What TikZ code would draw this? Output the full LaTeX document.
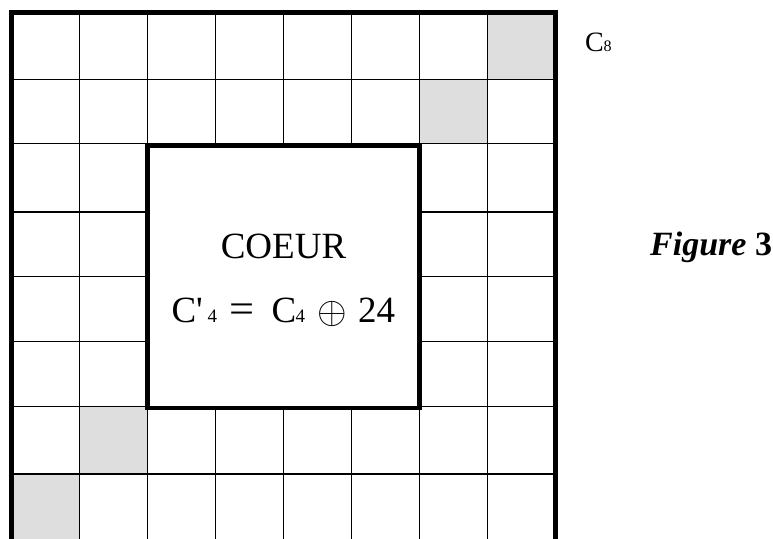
\documentclass[tikz,border=0pt]{standalone}
\usepackage{fontspec}
\newfontfamily\tnr{Liberation Serif}
\newcommand\fsz[1]{\fontsize{#1}{#1}\selectfont}
\newcommand\putat[2]{\makebox[0pt][l]{\hspace*{#1}#2}}
\begin{document}
\begin{tikzpicture}[x=1pt,y=-1pt,
  thin grid/.style={line width=1.3pt,black},
  thick border/.style={line width=4.6pt,black,line join=miter},
  shade/.style={fill=black!13,draw=none},
  lbl/.style={inner sep=0pt,outer sep=0pt}]
\useasboundingbox (0,0) rectangle (773,538);
% columns
\def\xa{11.5}\def\xb{79.5}\def\xc{147.5}\def\xd{215.5}\def\xe{283.5}
\def\xf{351.5}\def\xg{419.5}\def\xh{487.5}\def\xi{555.5}
% rows
\def\ya{12.5}\def\yb{79.3}\def\yc{143.8}\def\yd{212}\def\ye{276.5}
\def\yf{341.3}\def\yg{406.5}\def\yh{474}\def\yi{540}
% shaded cells
\fill[shade] (\xh,\ya) rectangle (\xi,\yb);
\fill[shade] (\xg,\yb) rectangle (\xh,\yc);
\fill[shade] (\xb,\yg) rectangle (\xc,\yh);
\fill[shade] (\xa,\yh) rectangle (\xb,\yi);
% grid lines
\foreach \x in {\xb,\xc,\xd,\xe,\xf,\xg,\xh}
  \draw[thin grid] (\x,\ya) -- (\x,\yi);
\foreach \y in {\yb,\yc,\yd,\ye,\yf,\yg,\yh}
  \draw[thin grid] (\xa,\y) -- (\xi,\y);
% core box
\node[lbl, draw, fill=white, line width=4.6pt, minimum width=272pt, minimum height=262.5pt, anchor=north west] (core) at (\xc,145.5) {};
% outer border (bottom cut off)
\coordinate (bl) at (\xa,545);
\coordinate (tl) at (\xa,\ya);
\coordinate (tr) at (\xi,\ya);
\coordinate (br) at (\xi,545);
\draw[thick border] (bl) -- (tl) -- (tr) -- (br);
% texts
\node[lbl, anchor=base west] (c8) at (585,51.7) {\tnr\fsz{28}C\fsz{16}8};
\node[lbl, anchor=base] (coeur) at (283.5,258.3) {\tnr\fsz{37}COEUR};
\node[lbl, anchor=base west] (formula) at (171,322.7)
  {\tnr\fsz{37}\putat{0pt}{C'}\putat{36pt}{\fsz{19}4}%
   \putat{58pt}{\scalebox{1.2}[1.1]{=}}\putat{100pt}{C}\putat{124pt}{\fsz{19}4}%
   \putat{145.5pt}{\fontsize{10}{12}\selectfont\raisebox{-1pt}{\scalebox{3.8}{$\oplus$}}}\putat{186.5pt}{24}};
\node[lbl, anchor=base east] (fig) at (772,255)
  {\tnr\fsz{34}\textbf{\textit{Figure} 3}};
\end{tikzpicture}
\end{document}
